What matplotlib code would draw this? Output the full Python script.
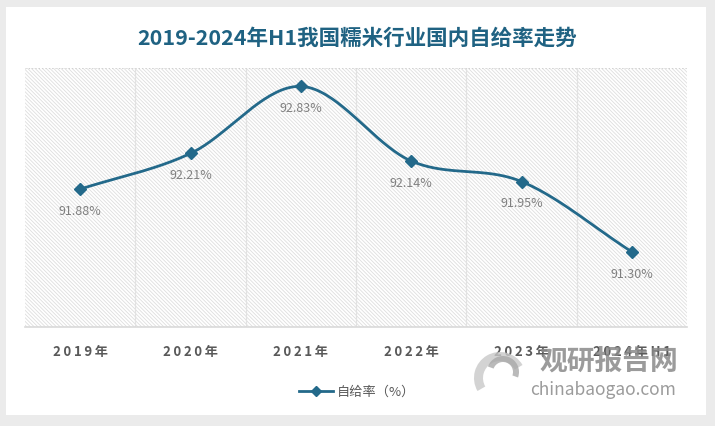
import numpy as np
import matplotlib
matplotlib.use("Agg")
import matplotlib.pyplot as plt
from matplotlib.patches import Rectangle, Wedge
from matplotlib.lines import Line2D

plt.rcParams['font.family'] = ['Noto Sans CJK SC', 'DejaVu Sans']
plt.rcParams['hatch.color'] = '#dedede'
plt.rcParams['hatch.linewidth'] = 0.6

categories = ['2019年', '2020年', '2021年', '2022年', '2023年', '2024年H1']
values = [91.88, 92.21, 92.83, 92.14, 91.95, 91.30]
labels = ['91.88%', '92.21%', '92.83%', '92.14%', '91.95%', '91.30%']
title = '2019-2024年H1我国糯米行业国内自给率走势'
legend_label = '自给率（%）'

line_color = '#23698a'
W, H = 715, 426
fig = plt.figure(figsize=(W / 100, H / 100), dpi=100)
fig.patch.set_facecolor('#ebebeb')

# white card
card = Rectangle((6 / W, 1 - 415 / H), 700 / W, 408 / H, transform=fig.transFigure,
                 facecolor='white', edgecolor='none', zorder=-5)
fig.patches.append(card)

ax = fig.add_axes([25 / W, 1 - 327 / H, 662 / W, 259 / H])
ax.set_zorder(1)
ax.set_facecolor('white')
ax.set_xlim(-0.5, len(categories) - 0.5)
ax.set_ylim(90.605, 93.0)

# hatched background
bg = Rectangle((0, 0), 1, 1, transform=ax.transAxes, facecolor='white',
               edgecolor='#dedede', hatch='\\' * 9, linewidth=0, zorder=0)
ax.add_patch(bg)

for s in ['top', 'right', 'left']:
    ax.spines[s].set_visible(False)
ax.spines['bottom'].set_color('#d9d9d9')
ax.spines['bottom'].set_linewidth(1.2)

# vertical separators
for b in np.arange(0.5, len(categories) - 1, 1.0):
    ax.axvline(b, color='#e2e2e2', lw=0.9, zorder=1)
ax.axhline(93.0, color='#cfcfcf', lw=0.8, ls=(0, (1, 2)), zorder=1)

# smooth curve (Catmull-Rom through data points)
x = np.arange(len(values), dtype=float)
y = np.array(values)
px = np.concatenate([[2 * x[0] - x[1]], x, [2 * x[-1] - x[-2]]])
py = np.concatenate([[2 * y[0] - y[1]], y, [2 * y[-1] - y[-2]]])
cx, cy = [], []
t = np.linspace(0, 1, 40)
for i in range(1, len(px) - 2):
    p0, p1, p2, p3 = [np.array([px[j], py[j]]) for j in range(i - 1, i + 3)]
    for tt in t:
        pt = 0.5 * ((2 * p1) + (-p0 + p2) * tt + (2 * p0 - 5 * p1 + 4 * p2 - p3) * tt ** 2
                    + (-p0 + 3 * p1 - 3 * p2 + p3) * tt ** 3)
        cx.append(pt[0]); cy.append(pt[1])
ax.plot(cx, cy, color=line_color, lw=2.0, zorder=3, solid_capstyle='round')
ax.plot(x, y, ls='none', marker='D', ms=6.5, color=line_color, zorder=4)

for xi, yi, lab in zip(x, y, labels):
    ax.annotate(lab, (xi, yi), xytext=(0, -16), textcoords='offset points',
                ha='center', va='center', fontsize=9, color='#808080', zorder=5)

ax.set_xticks(x)
ax.set_xticklabels(['\u2009'.join(list(c)) for c in categories])
ax.tick_params(axis='x', length=0, pad=13, labelsize=9.5, labelcolor='#595959')
for lbl in ax.get_xticklabels():
    lbl.set_fontweight('bold')
ax.set_yticks([])

fig.text(357 / W, 1 - 38 / H, title, ha='center', va='center', fontsize=15.5,
         fontweight='bold', color='#1f6282')

# legend
leg_handle = Line2D([], [], color=line_color, lw=2, marker='D', ms=5)
fig.legend([leg_handle], [legend_label], loc='center', bbox_to_anchor=(357 / W, 1 - 392 / H),
           frameon=False, fontsize=9.5, labelcolor='#595959', handlelength=2.6,
           handletextpad=0.3)

# watermark
wm = fig.add_axes([0, 0, 1, 1], zorder=5)
wm.set_xlim(0, W); wm.set_ylim(H, 0); wm.axis('off')
wm.add_patch(Wedge((500, 378), 26, 150, 330, width=9, facecolor='#c8c8c8', alpha=0.8))
wm.add_patch(Wedge((503, 372), 16, 200, 20, width=6, facecolor='#a9a9a9', alpha=0.8))
wm.text(609, 362, '观研报告网', ha='center', va='center', fontsize=20,
        fontweight='bold', color='#8a8a8a', alpha=0.85)
wm.text(603, 390, 'chinabaogao.com', ha='center', va='center', fontsize=12.5,
        color='#8a8a8a', alpha=0.85)

fig.savefig('out.png', dpi=100, facecolor=fig.get_facecolor())
